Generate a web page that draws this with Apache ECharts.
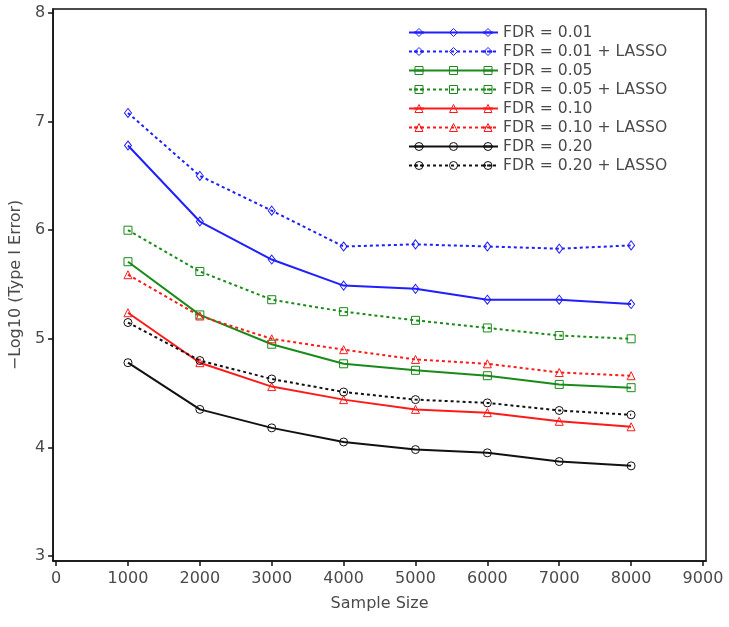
<!DOCTYPE html>
<html>
<head>
<meta charset="utf-8">
<script src="https://cdn.jsdelivr.net/npm/echarts@6/dist/echarts.min.js"></script>
<style>html,body{margin:0;padding:0;background:#fff}#c{width:729px;height:627px}</style>
</head>
<body>
<div id="c"></div>
<script>
const sampleSizes = [1000, 2000, 3000, 4000, 5000, 6000, 7000, 8000];
const xTicks = [0, 1000, 2000, 3000, 4000, 5000, 6000, 7000, 8000, 9000];
const yTicks = [3, 4, 5, 6, 7, 8];
const seriesNames = ['FDR = 0.01', 'FDR = 0.01 + LASSO', 'FDR = 0.05', 'FDR = 0.05 + LASSO',
                     'FDR = 0.10', 'FDR = 0.10 + LASSO', 'FDR = 0.20', 'FDR = 0.20 + LASSO'];
const fdr01  = [6.78, 6.08, 5.73, 5.49, 5.46, 5.36, 5.36, 5.32];
const fdr01L = [7.08, 6.50, 6.18, 5.85, 5.87, 5.85, 5.83, 5.86];
const fdr05  = [5.71, 5.22, 4.95, 4.77, 4.71, 4.66, 4.58, 4.55];
const fdr05L = [6.00, 5.62, 5.36, 5.25, 5.17, 5.10, 5.03, 5.00];
const fdr10  = [5.24, 4.78, 4.56, 4.44, 4.35, 4.32, 4.24, 4.19];
const fdr10L = [5.59, 5.21, 5.00, 4.90, 4.81, 4.77, 4.69, 4.66];
const fdr20  = [4.78, 4.35, 4.18, 4.05, 3.98, 3.95, 3.87, 3.83];
const fdr20L = [5.15, 4.80, 4.63, 4.51, 4.44, 4.41, 4.34, 4.30];

const allValues = [fdr01, fdr01L, fdr05, fdr05L, fdr10, fdr10L, fdr20, fdr20L];
const colors = ['#1f1fff', '#1f1fff', '#1a8a1a', '#1a8a1a', '#ff1a1a', '#ff1a1a', '#111111', '#111111'];
const symbols = ['diamond', 'diamond', 'rect', 'rect', 'triangle', 'triangle', 'circle', 'circle'];
const dashed = [false, true, false, true, false, true, false, true];

const FONT = 'DejaVu Sans';
const TXT = '#4a4a4a';

const series = seriesNames.map((name, i) => ({
  name: name,
  type: 'line',
  data: sampleSizes.map((x, j) => [x, allValues[i][j]]),
  symbol: symbols[i],
  symbolSize: symbols[i] === 'diamond' ? [7, 9] : 8,
  showSymbol: true,
  lineStyle: { color: colors[i], width: 2, type: dashed[i] ? [3, 3] : 'solid' },
  itemStyle: { color: 'rgba(255,255,255,0)', borderColor: colors[i], borderWidth: 1 },
  emphasis: { disabled: true },
  z: 2
}));

const legendBase = {
  orient: 'vertical',
  top: 23,
  padding: 0,
  itemGap: 0,
  itemHeight: 10,
  data: seriesNames,
  selectedMode: false,
  itemStyle: { borderWidth: 1 },
  lineStyle: { width: 2 },
  textStyle: { fontFamily: FONT, fontSize: 15.6, color: TXT, lineHeight: 19 }
};

const chart = echarts.init(document.getElementById('c'), null, { renderer: 'canvas' });
chart.setOption({
  animation: false,
  backgroundColor: '#fff',
  grid: { left: 53, right: 23, top: 9, bottom: 66, show: true, borderColor: '#111', borderWidth: 1.5, backgroundColor: 'transparent' },
  legend: [
    Object.assign({}, legendBase, { left: 408, itemWidth: 89 }),
    Object.assign({}, legendBase, { left: 413, itemWidth: 10, formatter: () => ' ' }),
    Object.assign({}, legendBase, { left: 482, itemWidth: 10, formatter: () => ' ' })
  ],
  xAxis: {
    type: 'value',
    min: -42, max: 9042,
    name: 'Sample Size',
    nameLocation: 'middle',
    nameGap: 35,
    nameTextStyle: { fontFamily: FONT, fontSize: 16, color: TXT },
    axisLine: { show: true, onZero: false, lineStyle: { color: '#111', width: 1.5 } },
    axisTick: { show: true, inside: false, length: 5, customValues: xTicks, lineStyle: { color: '#111', width: 1.5 } },
    axisLabel: { customValues: xTicks, margin: 10, fontFamily: FONT, fontSize: 16, color: TXT, formatter: v => String(v) },
    splitLine: { show: false }
  },
  yAxis: {
    type: 'value',
    min: 2.954, max: 8.037,
    name: '\u2212Log10 (Type I Error)',
    nameLocation: 'middle',
    nameGap: 25,
    nameRotate: 90,
    nameTextStyle: { fontFamily: FONT, fontSize: 16, color: TXT },
    axisLine: { show: true, onZero: false, lineStyle: { color: '#111', width: 1.5 } },
    axisTick: { show: true, inside: false, length: 5, customValues: yTicks, lineStyle: { color: '#111', width: 1.5 } },
    axisLabel: { customValues: yTicks, margin: 8, fontFamily: FONT, fontSize: 16, color: TXT, formatter: v => String(v) },
    splitLine: { show: false }
  },
  series: series
});
</script>
</body>
</html>
